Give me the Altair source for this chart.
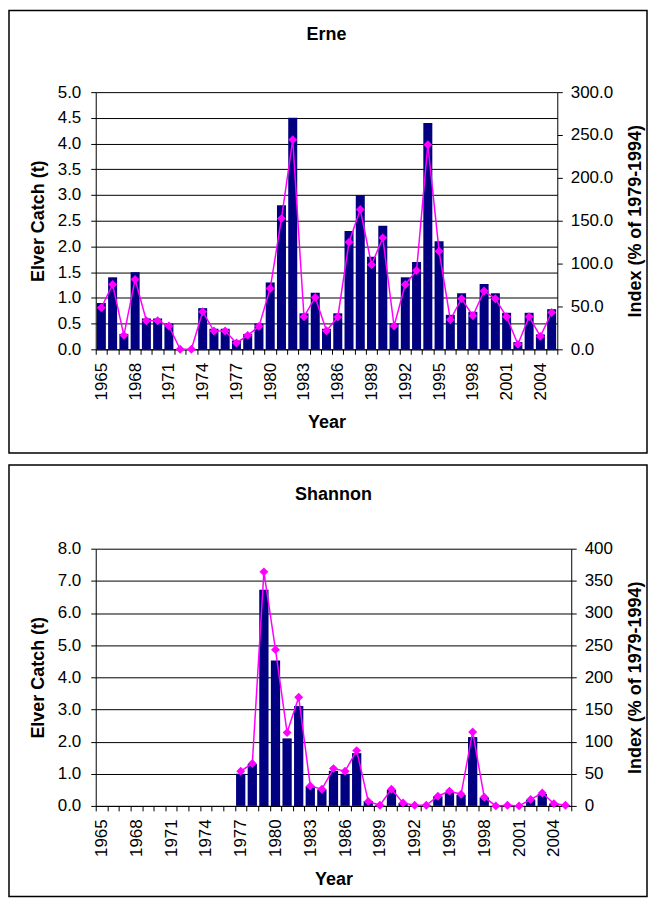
import altair as alt
import pandas as pd

years = list(range(1965, 2006))

erne_catch = [0.9, 1.4, 0.3, 1.5, 0.6, 0.6, 0.5, 0.0, 0.0, 0.8, 0.4,
              0.4, 0.17, 0.3, 0.5, 1.3, 2.8, 4.5, 0.7, 1.1, 0.4,
              0.7, 2.3, 3.0, 1.8, 2.4, 0.5, 1.4, 1.7, 4.4, 2.1,
              0.67, 1.09, 0.73, 1.27, 1.09, 0.71, 0.14, 0.71, 0.29, 0.78]
erne_index = [48.5, 75.7, 16.3, 81.5, 33.4, 33.4, 27.2, 0.0, 0.0, 43.9, 21.3,
              21.3, 7.4, 16.3, 26.8, 71.0, 152.5, 244.5, 38.0, 60.5, 21.7,
              37.6, 125.0, 163.0, 98.6, 130.0, 27.2, 75.7, 92.0, 238.6, 114.5,
              34.5, 59.0, 39.2, 68.0, 59.0, 38.0, 5.8, 38.0, 15.1, 43.0]

shannon_catch = [None] * 12 + [1.0, 1.3, 6.72, 4.52, 2.1, 3.11, 0.61, 0.51, 1.09, 1.0,
                               1.64, 0.15, 0.02, 0.5, 0.09, 0.02, 0.02, 0.3, 0.43, 0.34,
                               2.14, 0.26, 0.0, 0.01, 0.0, 0.19, 0.37, 0.07, 0.02]
shannon_index = [None] * 12 + [54, 66, 364, 243, 114, 169, 31, 26, 58, 54,
                               86, 7, 1, 26, 4.6, 1, 1, 15, 23, 18,
                               115, 13.5, 0, 1, 0, 10, 20, 3.6, 1]

erne_left_ticks = [0.0, 0.5, 1.0, 1.5, 2.0, 2.5, 3.0, 3.5, 4.0, 4.5, 5.0]
erne_right_ticks = [0, 50, 100, 150, 200, 250, 300]
shannon_left_ticks = [0, 1, 2, 3, 4, 5, 6, 7, 8]
shannon_right_ticks = [0, 50, 100, 150, 200, 250, 300, 350, 400]

FONT = "Liberation Sans"
BAR = "#000080"
LINE = "#FF00FF"


def panel(name, catch, index, width, lticks, lfmt, rticks, rfmt, box, title_y):
    df = pd.DataFrame({"Year": years, "Catch": catch, "Index": index})
    x = alt.X(
        "Year:O",
        scale=alt.Scale(domain=years, paddingInner=0, paddingOuter=0),
        axis=alt.Axis(
            title="Year",
            labelAngle=270,
            labelExpr="(datum.value - 1965) % 3 == 0 ? datum.label : ''",
            tickBand="extent",
            tickSize=5,
            labelPadding=8,
            titlePadding=14,
        ),
    )
    bars = alt.Chart(df).mark_bar(color=BAR, width=alt.RelativeBandSize(0.8)).encode(
        x=x,
        y=alt.Y(
            "Catch:Q",
            scale=alt.Scale(domain=[lticks[0], lticks[-1]], nice=False),
            axis=alt.Axis(
                title="Elver Catch (t)",
                values=lticks,
                format=lfmt,
                grid=True,
                gridColor="black",
                gridWidth=1,
                gridOpacity=1,
                tickSize=5,
                labelPadding=10,
                titlePadding=10,
            ),
        ),
    )
    line = alt.Chart(df).mark_line(
        color=LINE,
        strokeWidth=1.5,
        point=alt.OverlayMarkDef(shape="diamond", size=80, filled=True, color=LINE),
    ).encode(
        x=x,
        y=alt.Y(
            "Index:Q",
            scale=alt.Scale(domain=[rticks[0], rticks[-1]], nice=False),
            axis=alt.Axis(
                title="Index (% of 1979-1994)",
                orient="right",
                values=rticks,
                format=rfmt,
                grid=False,
                tickSize=5,
                labelPadding=8,
                titlePadding=14,
                titleAngle=270,
                titleBaseline="top",
            ),
        ),
    )
    one = pd.DataFrame({"f": [0]})
    frame = alt.Chart(one).mark_rect(
        filled=False, stroke="black", strokeWidth=1.5
    ).encode(
        x=alt.value(box[0]), x2=alt.value(box[1]),
        y=alt.value(box[2]), y2=alt.value(box[3]),
    )
    title = alt.Chart(one).mark_text(
        text=name, font=FONT, fontSize=18, fontWeight="bold",
        color="black", align="center", baseline="alphabetic",
    ).encode(x=alt.value(width / 2), y=alt.value(title_y))
    return alt.layer(bars, line, frame, title).resolve_scale(y="independent").properties(
        width=width,
        height=258,
    )


erne = panel("Erne", erne_catch, erne_index, 463,
             erne_left_ticks, ".1f", erne_right_ticks, ".1f",
             (-87, 553, -82, 362), -52)
shannon = panel("Shannon", shannon_catch, shannon_index, 477,
                shannon_left_ticks, ".1f", shannon_right_ticks, "d",
                (-87, 553, -84, 349), -49)

chart = alt.vconcat(erne, shannon, spacing=10).properties(
    padding=0, background="white"
).configure_view(stroke=None).configure_axis(
    labelFont=FONT, labelFontSize=17, labelColor="black",
    titleFont=FONT, titleFontSize=18, titleFontWeight="bold", titleColor="black",
    domainColor="black", tickColor="black", domainWidth=1,
)

chart.save("out.html", embed_options={"renderer": "svg", "actions": False})
